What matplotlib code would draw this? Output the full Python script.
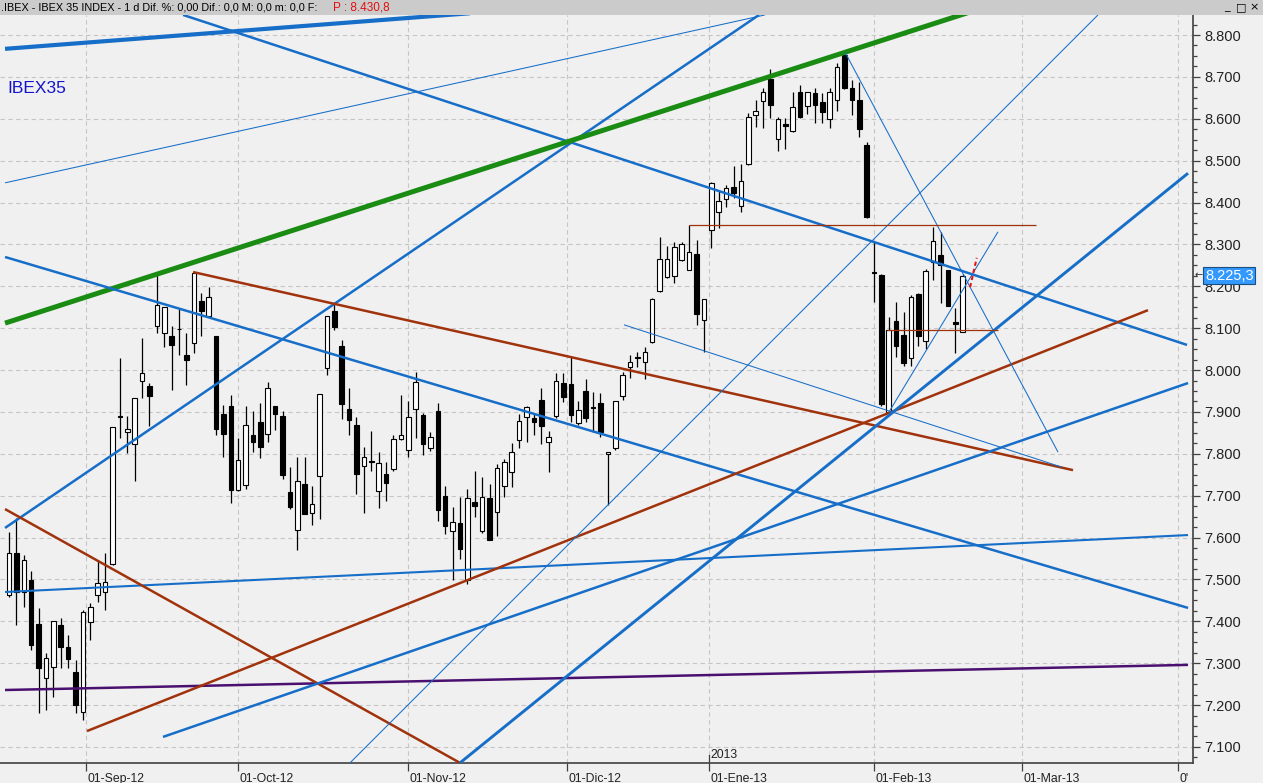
import matplotlib.pyplot as plt
import matplotlib.transforms as mtransforms
from matplotlib.patches import Rectangle
from matplotlib.ticker import MultipleLocator, FuncFormatter

# daily IBEX 35 candles, Aug-2012 .. Feb-2013 (trading-day index 0..129)
opens = [7463, 7562, 7471, 7499, 7394, 7264, 7292, 7391, 7338, 7280,
         7184, 7398, 7463, 7469, 7537, 7891, 7851, 7824, 7975, 7961,
         8106, 8088, 8082, 8099, 8036, 8064, 8164, 8129, 8082, 7895,
         7913, 7714, 7726, 7845, 7875, 7847, 7913, 7890, 7708, 7617,
         7727, 7658, 7747, 8004, 8141, 8057, 7906, 7869, 7772, 7782,
         7711, 7751, 7764, 7835, 7809, 7906, 7893, 7813, 7902, 7699,
         7616, 7634, 7499, 7686, 7616, 7694, 7662, 7724, 7756, 7833,
         7887, 7885, 7929, 7829, 7891, 7970, 7967, 7873, 7950, 7911,
         7922, 7799, 7813, 7938, 8008, 8032, 8019, 8068, 8189, 8223,
         8224, 8263, 8239, 8276, 8119, 8334, 8378, 8408, 8436, 8392,
         8491, 8609, 8642, 8694, 8552, 8587, 8571, 8663, 8630, 8661,
         8639, 8599, 8645, 8752, 8673, 8646, 8537, 8235, 8227, 7901,
         8117, 8084, 8028, 8181, 8069, 8259, 8275, 8239, 8115, 8090]
highs = [7614, 7646, 7558, 7519, 7431, 7324, 7401, 7407, 7367, 7308,
         7427, 7443, 7543, 7562, 7863, 8028, 7890, 7933, 8076, 7970,
         8227, 8150, 8104, 8145, 8089, 8231, 8183, 8198, 8082, 7917,
         7941, 7837, 7914, 7902, 7921, 7972, 7914, 7903, 7768, 7793,
         7793, 7722, 7942, 8129, 8159, 8072, 7956, 7887, 7817, 7855,
         7804, 7781, 7845, 7940, 7927, 7995, 7898, 7853, 7922, 7722,
         7674, 7698, 7715, 7759, 7745, 7728, 7775, 7788, 7825, 7895,
         7914, 7895, 7956, 7855, 7992, 7992, 8031, 7925, 7978, 7947,
         7946, 7805, 7926, 7995, 8036, 8044, 8056, 8171, 8318, 8296,
         8306, 8306, 8346, 8310, 8169, 8450, 8431, 8442, 8487, 8492,
         8614, 8646, 8673, 8720, 8605, 8603, 8663, 8681, 8665, 8674,
         8661, 8673, 8732, 8756, 8692, 8689, 8545, 8306, 8230, 8127,
         8162, 8139, 8179, 8183, 8241, 8341, 8330, 8240, 8147, 8229]
lows = [7457, 7391, 7435, 7331, 7180, 7188, 7220, 7288, 7288, 7182,
        7165, 7356, 7447, 7427, 7535, 7837, 7801, 7734, 7933, 7867,
        8089, 8054, 7953, 8036, 7965, 8040, 8082, 8128, 7845, 7793,
        7682, 7710, 7715, 7805, 7789, 7829, 7857, 7739, 7668, 7570,
        7656, 7629, 7645, 7988, 8096, 7883, 7845, 7703, 7658, 7760,
        7670, 7687, 7760, 7833, 7793, 7837, 7796, 7807, 7640, 7608,
        7499, 7550, 7490, 7650, 7612, 7594, 7604, 7698, 7720, 7813,
        7829, 7845, 7823, 7757, 7885, 7923, 7877, 7869, 7877, 7853,
        7840, 7678, 7809, 7929, 7980, 8008, 7978, 8064, 8187, 8219,
        8207, 8261, 8239, 8107, 8044, 8291, 8338, 8390, 8410, 8378,
        8490, 8581, 8579, 8603, 8524, 8529, 8569, 8603, 8611, 8591,
        8589, 8579, 8619, 8672, 8609, 8557, 8364, 8163, 7915, 7897,
        8032, 8010, 8010, 8058, 8050, 8215, 8159, 8154, 8040, 8090]
closes = [7562, 7471, 7546, 7343, 7288, 7312, 7401, 7338, 7309, 7200,
          7423, 7435, 7491, 7495, 7863, 7887, 7859, 7933, 7992, 7938,
          8156, 8150, 8061, 8097, 8024, 8231, 8142, 8175, 7859, 7847,
          7714, 7785, 7869, 7829, 7816, 7957, 7895, 7750, 7672, 7736,
          7656, 7680, 7942, 8129, 8103, 7919, 7881, 7751, 7793, 7780,
          7777, 7731, 7835, 7844, 7887, 7971, 7823, 7839, 7666, 7628,
          7638, 7572, 7695, 7676, 7696, 7594, 7765, 7780, 7805, 7878,
          7911, 7877, 7867, 7840, 7975, 7936, 7893, 7905, 7886, 7909,
          7851, 7805, 7925, 7988, 8019, 8028, 8042, 8169, 8264, 8264,
          8293, 8301, 8281, 8135, 8169, 8447, 8404, 8435, 8422, 8452,
          8605, 8619, 8665, 8634, 8599, 8583, 8629, 8605, 8665, 8634,
          8615, 8665, 8724, 8674, 8645, 8575, 8365, 8231, 7920, 8096,
          8058, 8018, 8175, 8082, 8236, 8307, 8251, 8154, 8111, 8225.3]

month_pos = [10.4, 31.0, 54.0, 75.5, 94.7, 117.0, 137.0, 158.1]
month_labels = ['01-Sep-12', '01-Oct-12', '01-Nov-12', '01-Dic-12',
                '01-Ene-13', '01-Feb-13', '01-Mar-13', "0'"]

# trend lines drawn on the chart: start (index, price) -> end (index, price)
trend_x0 = [-0.54, 23.54, -0.54, -0.54, -0.54, -0.54, -0.54, -0.54,
            -0.54, 10.55, 24.9, 61.0, 20.83, 46.12, 83.19, 113.08, 119.03,
            92.0, 118.8, 130.0]
trend_p0 = [8767, 8848, 8447, 7623, 8112, 8270, 7470, 7236,
            7668, 7138, 8234, 7062, 7124, 7062, 8108, 8759, 7900,
            8346, 8096, 8198]
trend_x1 = [62.36, 159.34, 102.26, 101.45, 129.99, 159.48, 159.48, 159.48,
            61.0, 154.06, 143.92, 159.48, 159.48, 147.3, 142.43, 141.89, 133.77,
            138.9, 133.8, 130.9]
trend_p1 = [8852, 8060, 8848, 8848, 8855, 7432, 7606, 7296,
            7062, 8143, 7761, 8470, 7969, 8848, 7768, 7804, 8330,
            8346, 8096, 8268]

BLUE = '#166ec8'
BROWN = '#a0320c'
line_styles = [
    (BLUE, 3.0, '-'), (BLUE, 1.8, '-'), (BLUE, 0.75, '-'), (BLUE, 1.8, '-'),
    ('#1a8c14', 3.6, '-'), (BLUE, 1.8, '-'), (BLUE, 1.5, '-'), ('#4a1070', 1.8, '-'),
    (BROWN, 1.8, '-'), (BROWN, 1.8, '-'), (BROWN, 1.8, '-'), (BLUE, 2.1, '-'),
    (BLUE, 1.8, '-'), (BLUE, 0.75, '-'), (BLUE, 0.75, '-'), (BLUE, 0.75, '-'),
    (BLUE, 0.75, '-'), (BROWN, 0.9, '-'), (BROWN, 0.9, '-'), ('#ee1111', 1.5, (0, (2, 1.5))),
]

plt.rcParams['font.family'] = ['Liberation Sans', 'DejaVu Sans']
BG = '#f0f0f0'

fig = plt.figure(figsize=(12.63, 7.83), dpi=100, facecolor=BG)
ax = fig.add_axes([0, 20 / 783, 1193 / 1263, 748 / 783], facecolor=BG)

n = len(closes)
xs = list(range(n))

# grid
for p in range(7100, 8900, 100):
    ax.axhline(p, color='#c6c6c6', lw=0.8, ls=(0, (4, 3)), zorder=0)
for m in month_pos:
    ax.axvline(m, color='#c6c6c6', lw=0.8, ls=(0, (4, 3)), zorder=0)

# candles
ax.vlines(xs, lows, highs, color='black', lw=0.9, zorder=2)
bottoms = [min(o, c) for o, c in zip(opens, closes)]
heights = [max(abs(c - o), 2) for o, c in zip(opens, closes)]
fills = ['white' if c >= o else 'black' for o, c in zip(opens, closes)]
ax.bar(xs, heights, bottom=bottoms, width=0.62, color=fills,
       edgecolor='black', linewidth=0.8, zorder=3)

# trend lines
for i in range(len(trend_x0)):
    col, lw, ls = line_styles[i]
    ax.plot([trend_x0[i], trend_x1[i]], [trend_p0[i], trend_p1[i]],
            color=col, lw=lw, ls=ls, zorder=4, solid_capstyle='butt')

ax.set_xlim(-1.22, 160.15)
ax.set_ylim(7061.7, 8847.8)

for s in ['left', 'top']:
    ax.spines[s].set_visible(False)
ax.spines['right'].set_color('#404040')
ax.spines['bottom'].set_color('#404040')
ax.spines['right'].set_linewidth(1.2)
ax.spines['bottom'].set_linewidth(1.2)

ax.yaxis.tick_right()
ax.yaxis.set_major_locator(MultipleLocator(100))
ax.yaxis.set_minor_locator(MultipleLocator(25))
ax.yaxis.set_major_formatter(FuncFormatter(lambda v, pos: f'{v:,.0f}'.replace(',', '.')))
ax.tick_params(axis='y', which='major', length=5, width=0.9, color='#404040',
               labelsize=10.5, pad=3, labelcolor='#222222')
ax.tick_params(axis='y', which='minor', length=3, width=0.9, color='#404040')

ax.set_xticks(month_pos)
ax.set_xticklabels(month_labels)
ax.tick_params(axis='x', length=6, width=0.9, color='#404040', labelsize=8.8,
               pad=1, labelcolor='#222222')
offset = mtransforms.ScaledTranslation(1.5 / 100, 0, fig.dpi_scale_trans)
for lab in ax.get_xticklabels():
    lab.set_ha('left')
    lab.set_transform(lab.get_transform() + offset)

# year marker
ax.plot([month_pos[4], month_pos[4]], [7061.7, 7080], color='#404040', lw=0.9, zorder=5)
ax.text(month_pos[4] + 0.2, 7066, '2013', fontsize=8.8, color='#222222', va='bottom')

ax.text(0.006, 0.902, 'IBEX35', transform=ax.transAxes, fontsize=12.5,
        color='#1414cc', va='center')

# last price tag
blend = mtransforms.blended_transform_factory(ax.transAxes, ax.transData)
last_txt = f'{closes[-1]:,.1f}'.replace(',', ' ').replace('.', ',').replace(' ', '.')
ax.text(1 + 12 / 1193, closes[-1], last_txt, transform=blend, color='white',
        fontsize=10.5, va='center', ha='left', clip_on=False,
        bbox=dict(boxstyle='square,pad=0.12', fc='#3399ff', ec='#1a4f80', lw=0.8))
ax.text(1 + 2 / 1193, closes[-1], '←', transform=blend, color='#303030',
        fontsize=7, va='center', ha='left', clip_on=False, family='DejaVu Sans')

# window title bar
fig.patches.append(Rectangle((0, 1 - 15 / 783), 1, 15 / 783, transform=fig.transFigure,
                             facecolor='#cbcbcb', edgecolor='none'))
fig.text(1 / 1263, 1 - 7.5 / 783,
         '.IBEX - IBEX 35 INDEX - 1 d Dif. %: 0,00 Dif.: 0,0 M: 0,0 m: 0,0 F:',
         fontsize=7.8, va='center', color='black')
fig.text(333 / 1263, 1 - 7.5 / 783, 'P : 8.430,8', fontsize=8.5, va='center', color='#e01010')
for xb, ch in [(1224, '_'), (1236, '□'), (1249, '×')]:
    fig.text(xb / 1263, 1 - 7.5 / 783, ch, fontsize=8, va='center', color='black',
             family='DejaVu Sans')

fig.savefig('out.png', dpi=100, facecolor=BG)
